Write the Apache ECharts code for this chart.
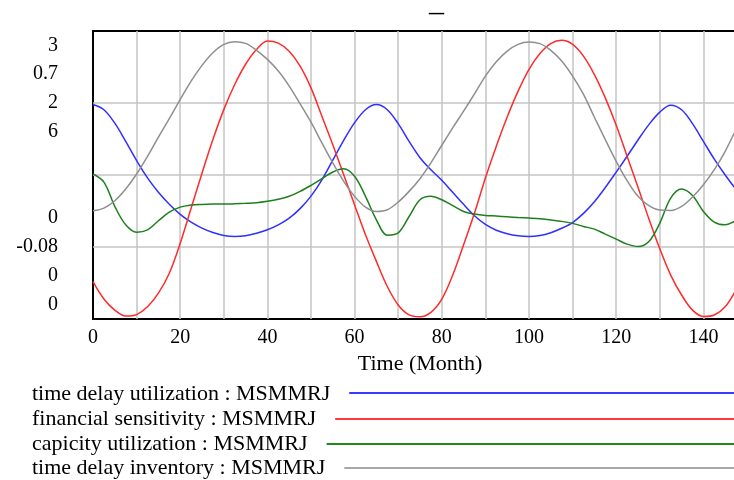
<!DOCTYPE html>
<html><head><meta charset="utf-8">
<script src="https://cdn.jsdelivr.net/npm/echarts@6/dist/echarts.min.js"></script>
<style>html,body{margin:0;padding:0;background:#fff}#c{width:734px;height:480px}</style>
</head><body><div id="c"></div>
<script>
const titleText = '_';
const xAxisName = 'Time (Month)';
const seriesNames = [
  'time delay utilization : MSMMRJ',
  'financial sensitivity : MSMMRJ',
  'capicity utilization : MSMMRJ',
  'time delay inventory : MSMMRJ'
];
const yTopLabels = ['3', '0.7', '2', '6'];
const yBottomLabels = ['0', '-0.08', '0', '0'];
const scaleMin = [0, -0.08, 0, 0];
const scaleMax = [3, 0.7, 2, 6];
const xMin = 0, xMax = 150, xStep = 10, xLabelStep = 20;

const months = [0,2.5,5,7.5,10,12.5,15,17.5,20,22.5,25,27.5,30,32.5,35,37.5,40,42.5,45,47.5,50,52.5,55,57.5,60,62.5,65,67.5,70,72.5,75,77.5,80,82.5,85,87.5,90,92.5,95,97.5,100,102.5,105,107.5,110,112.5,115,117.5,120,122.5,125,127.5,130,132.5,135,137.5,140,142.5,145,147.5,150];

const utilValues = [2.234,2.180,2.040,1.850,1.650,1.470,1.320,1.195,1.090,1.009,0.947,0.901,0.870,0.860,0.868,0.893,0.929,0.980,1.050,1.150,1.280,1.450,1.655,1.860,2.045,2.180,2.234,2.180,2.035,1.850,1.680,1.555,1.445,1.320,1.195,1.075,0.985,0.925,0.888,0.867,0.860,0.870,0.899,0.945,1.005,1.100,1.222,1.370,1.530,1.695,1.865,2.025,2.155,2.227,2.180,2.035,1.850,1.665,1.500,1.350,1.225];

const finValues = [0.021,-0.026,-0.056,-0.072,-0.068,-0.047,-0.010,0.044,0.125,0.220,0.315,0.406,0.487,0.555,0.610,0.650,0.673,0.667,0.645,0.605,0.546,0.469,0.392,0.311,0.229,0.148,0.076,0.008,-0.042,-0.069,-0.074,-0.062,-0.026,0.039,0.121,0.207,0.302,0.388,0.467,0.537,0.596,0.639,0.666,0.675,0.664,0.632,0.582,0.519,0.445,0.361,0.277,0.191,0.110,0.039,-0.015,-0.056,-0.073,-0.069,-0.047,-0.001,0.053];

const capValues = [1.007,0.951,0.782,0.654,0.603,0.619,0.682,0.742,0.777,0.791,0.796,0.798,0.798,0.800,0.803,0.807,0.817,0.831,0.852,0.886,0.928,0.974,1.021,1.044,0.991,0.852,0.689,0.582,0.598,0.712,0.828,0.852,0.828,0.787,0.747,0.729,0.719,0.715,0.710,0.705,0.701,0.696,0.687,0.678,0.664,0.643,0.624,0.589,0.555,0.520,0.503,0.538,0.666,0.840,0.903,0.858,0.747,0.673,0.654,0.682,0.701];

const invValues = [2.255,2.311,2.464,2.708,3.021,3.390,3.787,4.176,4.573,4.956,5.283,5.548,5.722,5.777,5.742,5.596,5.408,5.165,4.852,4.483,4.100,3.668,3.251,2.868,2.555,2.332,2.241,2.276,2.436,2.659,2.923,3.251,3.620,3.981,4.330,4.691,5.060,5.360,5.582,5.722,5.770,5.736,5.596,5.374,5.060,4.678,4.204,3.738,3.285,2.882,2.555,2.360,2.269,2.262,2.346,2.541,2.798,3.111,3.494,3.947,4.364];

const colors = ['#2f2fff', '#ff2a2a', '#1e7f1e', '#8f8f8f'];
const legendColors = ['#3a3aff', '#ff3a3a', '#1f8a1f', '#a8a8a8'];
const FONT = '"Liberation Serif", "Times New Roman", serif';

const valuesList = [utilValues, finValues, capValues, invValues];

const chart = echarts.init(document.getElementById('c'), null, {renderer: 'canvas'});

const series = seriesNames.map((name, i) => ({
  name: name,
  type: 'line',
  xAxisIndex: 0,
  yAxisIndex: i + 1,
  data: months.map((t, k) => [t, valuesList[i][k]]),
  showSymbol: false,
  smooth: 0.35,
  lineStyle: {color: colors[i], width: 1.5},
  itemStyle: {color: colors[i]},
  z: 3
}));

const yAxes = [{
  type: 'category',
  inverse: true,
  position: 'left',
  data: yTopLabels.concat(['', '']).concat(yBottomLabels),
  axisLine: {show: false},
  axisTick: {show: false},
  splitLine: {show: false},
  axisLabel: {margin: 35, fontSize: 20, fontFamily: FONT, color: '#000'}
}];
for (let i = 0; i < 4; i++) {
  yAxes.push({
    type: 'value',
    min: scaleMin[i],
    max: scaleMax[i],
    interval: (scaleMax[i] - scaleMin[i]) / 4,
    show: i === 0,
    axisLine: {show: false},
    axisTick: {show: false},
    axisLabel: {show: false},
    splitLine: {show: i === 0, showMinLine: false, showMaxLine: false, lineStyle: {color: '#c4c4c4', width: 1.5}}
  });
}

// legend built as graphic text + line
const ctx = document.createElement('canvas').getContext('2d');
ctx.font = '22px ' + FONT;
const rowY = [394, 419, 444, 468];
const lineY = [393, 419, 444, 468];
const graphics = [];
seriesNames.forEach((name, i) => {
  const w = ctx.measureText(name).width;
  graphics.push({
    type: 'text', x: 32, y: rowY[i], silent: true,
    style: {text: name, font: '22px ' + FONT, fill: '#000', verticalAlign: 'middle', textVerticalAlign: 'middle'}
  });
  graphics.push({
    type: 'line', silent: true,
    shape: {x1: 32 + w + 19, y1: lineY[i], x2: 734, y2: lineY[i]},
    style: {stroke: legendColors[i], lineWidth: 2}
  });
});

chart.setOption({
  animation: false,
  backgroundColor: '#fff',
  title: {
    text: titleText, left: 424, top: -17,
    textStyle: {fontSize: 30, fontWeight: 'normal', fontFamily: FONT, color: '#000'}
  },
  grid: {
    left: 93, top: 31, right: -13, bottom: 161,
    show: true, borderColor: '#000', borderWidth: 2, backgroundColor: 'transparent',
    containLabel: false, outerBoundsMode: 'none'
  },
  xAxis: {
    type: 'value', min: xMin, max: xMax, interval: xStep,
    name: xAxisName, nameLocation: 'middle', nameGap: 29,
    nameTextStyle: {fontSize: 22, fontFamily: FONT, color: '#000'},
    axisLine: {show: false},
    axisTick: {show: false},
    splitLine: {show: true, showMinLine: false, showMaxLine: false, lineStyle: {color: '#c4c4c4', width: 1.5}},
    axisLabel: {
      margin: 9, fontSize: 20, fontFamily: FONT, color: '#000',
      formatter: v => (v % xLabelStep === 0 ? String(v) : '')
    }
  },
  yAxis: yAxes,
  series: series,
  graphic: graphics
});
</script>
</body></html>
